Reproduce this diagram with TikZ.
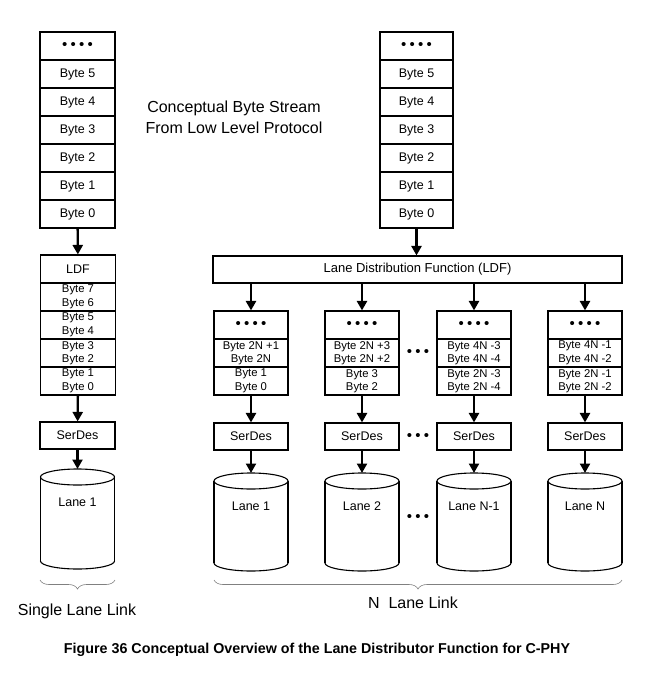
\documentclass[tikz,border=0pt]{standalone}
\usepackage{fontspec}
\setmainfont{Liberation Sans}
\usetikzlibrary{arrows.meta,decorations.pathreplacing}
\newcommand{\fourdots}{{\fontsize{15}{15}\selectfont •\kern3.2pt•\kern3.2pt•\kern3.2pt•}}
\newcommand{\threedots}{{\fontsize{15}{15}\selectfont •\kern3.2pt•\kern3.2pt•}}
\newcommand{\lanecyl}[5]{%
  \draw[cylline] (#2,#4) ellipse[x radius=37, y radius=8];
  \fill[white] (#2-37,#3) rectangle (#2+37,#4);
  \draw[cylline] (#2-37,#3) -- (#2-37,#4) (#2+37,#3) -- (#2+37,#4);
  \draw[cylline, fill=white] (#2,#3) ellipse[x radius=37, y radius=8];
  \coordinate (#1top) at (#2,#3-8);
  \node[lbl] (#1) at (#2,#3+25) {#5};
}
\begin{document}
\begin{tikzpicture}[x=1pt,y=-1pt,
  cell/.style={draw, line width=1.1pt, fill=white, minimum width=75pt, minimum height=28pt, inner sep=0pt, font=\fontsize{12.5}{14}\selectfont},
  rcell/.style={cell, minimum width=73pt},
  ccell/.style={cell, minimum width=74pt},
  pair/.style={cell, align=center, font=\fontsize{11.3}{13.5}\selectfont},
  cpair/.style={pair, minimum width=74pt},
  serdes/.style={cell, minimum height=27pt, font=\fontsize{12.5}{14}\selectfont},
  cserdes/.style={serdes, minimum width=74pt},
  cylline/.style={line width=1.1pt},
  lbl/.style={font=\fontsize{12.5}{14}\selectfont, inner sep=1pt},
  arr/.style={line width=2.3pt, -{Triangle[length=9.5pt,width=10pt]}},
  brc/.style={draw=gray, line width=0.6pt, decorate, decoration={brace, amplitude=9pt}},
  big/.style={font=\fontsize{16}{21}\selectfont, align=center},
  dotn/.style={inner sep=0pt}
]
\useasboundingbox (0,0) rectangle (650,673);

% ---------- left: single lane ----------
\node[cell] (L6) at (77.5,46) {\fourdots};
\node[cell] (L5) at (77.5,74) {Byte 5};
\node[cell] (L4) at (77.5,102) {Byte 4};
\node[cell] (L3) at (77.5,130) {Byte 3};
\node[cell] (L2) at (77.5,158) {Byte 2};
\node[cell] (L1) at (77.5,186) {Byte 1};
\node[cell] (L0) at (77.5,214) {Byte 0};

\node[cell] (Lldf) at (78,269) {LDF};
\node[pair] (Lp3) at (78,297) {Byte 7\\Byte 6};
\node[pair] (Lp2) at (78,325) {Byte 5\\Byte 4};
\node[pair] (Lp1) at (78,353) {Byte 3\\Byte 2};
\node[pair] (Lp0) at (78,381) {Byte 1\\Byte 0};

\node[serdes] (Lsd) at (77.5,435.5) {SerDes};
\lanecyl{Lc}{77.5}{477}{561}{Lane 1}

\draw[arr] (L0) -- (Lldf);
\draw[arr] (Lp0) -- (Lsd);
\draw[arr] (Lsd) -- (Lctop);

\draw[brc] (115,580) -- (40,580);
\node[big] (single) at (77,611) {Single Lane Link};

\node[big] (cbs) at (234,117.5) {Conceptual Byte Stream\\From Low Level Protocol};

% ---------- right: N lanes ----------
\node[rcell] (R6) at (416.5,46) {\fourdots};
\node[rcell] (R5) at (416.5,74) {Byte 5};
\node[rcell] (R4) at (416.5,102) {Byte 4};
\node[rcell] (R3) at (416.5,130) {Byte 3};
\node[rcell] (R2) at (416.5,158) {Byte 2};
\node[rcell] (R1) at (416.5,186) {Byte 1};
\node[rcell] (R0) at (416.5,214) {Byte 0};

\node[cell, minimum width=409pt, minimum height=27pt, font=\fontsize{13}{15}\selectfont] (ldf) at (417.5,269.5) {Lane Distribution Function (LDF)};
\draw[arr] (R0.south) -- (R0.south |- ldf.north);

% column 1
\node[ccell] (C1d) at (251,325) {\fourdots};
\node[cpair] (C1a) at (251,353) {Byte 2N +1\\Byte 2N};
\node[cpair] (C1b) at (251,381) {Byte 1\\Byte 0};
\node[cserdes] (S1) at (251,436.5) {SerDes};
\lanecyl{K1}{251}{481}{563}{Lane 1}
% column 2
\node[ccell] (C2d) at (362,325) {\fourdots};
\node[cpair] (C2a) at (362,353) {Byte 2N +3\\Byte 2N +2};
\node[cpair] (C2b) at (362,381) {Byte 3\\Byte 2};
\node[cserdes] (S2) at (362,436.5) {SerDes};
\lanecyl{K2}{362}{481}{563}{Lane 2}
% column 3
\node[ccell] (C3d) at (474,325) {\fourdots};
\node[cpair] (C3a) at (474,353) {Byte 4N -3\\Byte 4N -4};
\node[cpair] (C3b) at (474,381) {Byte 2N -3\\Byte 2N -4};
\node[cserdes] (S3) at (474,436.5) {SerDes};
\lanecyl{K3}{474}{481}{563}{Lane N-1}
% column 4
\node[ccell] (C4d) at (585,325) {\fourdots};
\node[cpair] (C4a) at (585,353) {Byte 4N -1\\Byte 4N -2};
\node[cpair] (C4b) at (585,381) {Byte 2N -1\\Byte 2N -2};
\node[cserdes] (S4) at (585,436.5) {SerDes};
\lanecyl{K4}{585}{481}{563}{Lane N}

\foreach \i in {1,2,3,4}{
  \draw[arr] (C\i d.north |- ldf.south) -- (C\i d.north);
  \draw[arr] (C\i b) -- (S\i);
  \draw[arr] (S\i) -- (K\i top);
}

\node[dotn] (dA) at (418,353) {\threedots};
\node[dotn] (dB) at (418,436.5) {\threedots};
\node[dotn] (dC) at (418,518) {\threedots};

\draw[brc] (622,580) -- (214,580);
\node[big] (nlink) at (413,603) {N\ \ Lane Link};

\node[font=\bfseries\fontsize{14.3}{17}\selectfont] (cap) at (317,650) {Figure 36 Conceptual Overview of the Lane Distributor Function for C-PHY};
\end{tikzpicture}
\end{document}
